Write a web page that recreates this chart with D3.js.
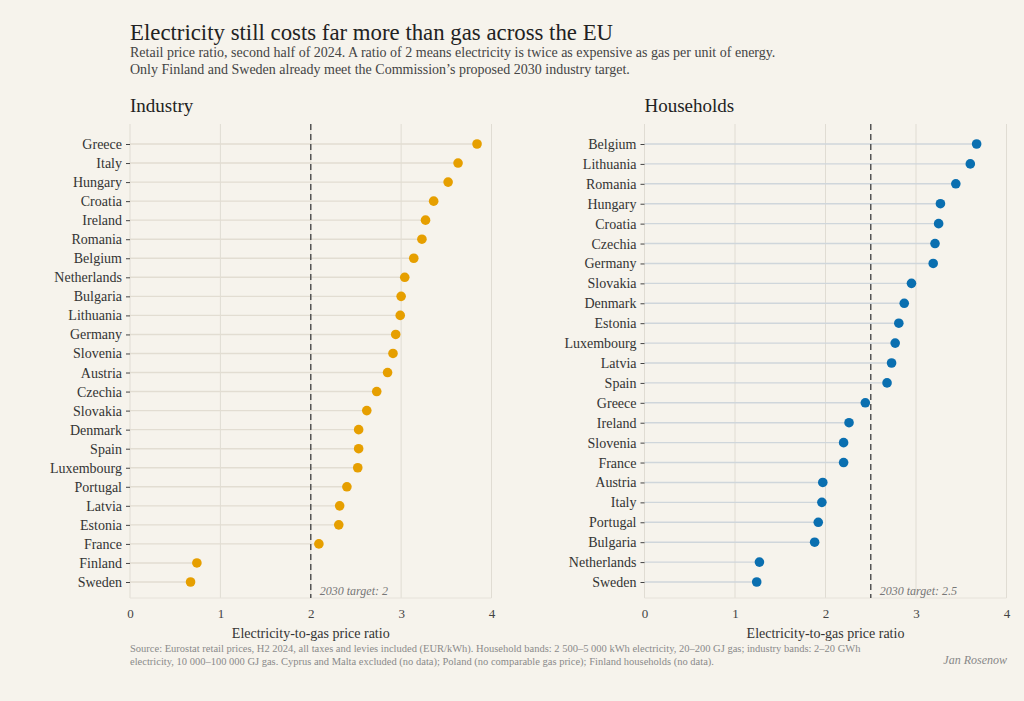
<!DOCTYPE html>
<html>
<head>
<meta charset="utf-8">
<script src="https://cdn.jsdelivr.net/npm/d3@7"></script>
<style>
  body { margin: 0; background: #f6f3ec; }
  svg text { font-family: "Liberation Serif", "DejaVu Serif", serif; }
</style>
</head>
<body>
<div id="chart"></div>
<script>
// Industry: electricity-to-gas retail price ratio, H2 2024 (sorted high to low)
const industryCountries = ["Greece", "Italy", "Hungary", "Croatia", "Ireland", "Romania", "Belgium",
  "Netherlands", "Bulgaria", "Lithuania", "Germany", "Slovenia", "Austria", "Czechia", "Slovakia",
  "Denmark", "Spain", "Luxembourg", "Portugal", "Latvia", "Estonia", "France", "Finland", "Sweden"];
const industryValues = [3.84, 3.63, 3.52, 3.36, 3.27, 3.23, 3.14, 3.04, 3.00, 2.99, 2.94, 2.91,
  2.85, 2.73, 2.62, 2.53, 2.53, 2.52, 2.40, 2.32, 2.31, 2.09, 0.74, 0.67];

// Households
const householdCountries = ["Belgium", "Lithuania", "Romania", "Hungary", "Croatia", "Czechia",
  "Germany", "Slovakia", "Denmark", "Estonia", "Luxembourg", "Latvia", "Spain", "Greece", "Ireland",
  "Slovenia", "France", "Austria", "Italy", "Portugal", "Bulgaria", "Netherlands", "Sweden"];
const householdValues = [3.67, 3.60, 3.44, 3.27, 3.25, 3.21, 3.19, 2.95, 2.87, 2.81, 2.77, 2.73,
  2.68, 2.44, 2.26, 2.20, 2.20, 1.97, 1.96, 1.92, 1.88, 1.27, 1.24];

const xTicks = [0, 1, 2, 3, 4];
const industryTarget = 2;
const householdTarget = 2.5;

let WIDTH = 1024,
    HEIGHT = 701,
    PANEL_TOP = 124,
    PANEL_BOTTOM = 598;

let svg = d3.select("#chart")
  .append("svg")
  .attr("width", WIDTH)
  .attr("height", HEIGHT);

svg.append("rect")
  .attr("width", WIDTH)
  .attr("height", HEIGHT)
  .attr("fill", "#f6f3ec");

// Title block
svg.append("text")
  .attr("x", 130).attr("y", 40)
  .attr("font-size", 22.8)
  .attr("fill", "#222")
  .text("Electricity still costs far more than gas across the EU");

const subtitle = [
  "Retail price ratio, second half of 2024. A ratio of 2 means electricity is twice as expensive as gas per unit of energy.",
  "Only Finland and Sweden already meet the Commission\u2019s proposed 2030 industry target."
];
svg.selectAll(".subtitle")
  .data(subtitle)
  .enter()
  .append("text")
  .attr("class", "subtitle")
  .attr("x", 130)
  .attr("y", (d, i) => 57 + i * 16.5)
  .attr("font-size", 14)
  .attr("fill", "#444")
  .text(d => d);

function drawPanel(opts) {
  const countries = opts.countries;
  const values = opts.values;

  const xScale = d3.scaleLinear().domain([0, 4]).range([opts.left, opts.right]);
  const yScale = d3.scalePoint().domain(countries).range([144, 582]);

  const g = svg.append("g");

  // panel title
  g.append("text")
    .attr("x", opts.left)
    .attr("y", 112)
    .attr("font-size", 19)
    .attr("fill", "#222")
    .text(opts.title);

  // vertical grid
  g.selectAll(".grid")
    .data(xTicks)
    .enter()
    .append("line")
    .attr("x1", d => xScale(d))
    .attr("x2", d => xScale(d))
    .attr("y1", PANEL_TOP)
    .attr("y2", PANEL_BOTTOM)
    .attr("stroke", "#e0dcd3")
    .attr("stroke-width", 1);

  // bottom line of the panel
  g.append("line")
    .attr("x1", xScale(0))
    .attr("x2", xScale(4))
    .attr("y1", PANEL_BOTTOM)
    .attr("y2", PANEL_BOTTOM)
    .attr("stroke", "#e6e2da");

  // lollipop stems
  g.selectAll(".stem")
    .data(countries)
    .enter()
    .append("line")
    .attr("x1", xScale(0))
    .attr("x2", (d, i) => xScale(values[i]))
    .attr("y1", d => yScale(d))
    .attr("y2", d => yScale(d))
    .attr("stroke", opts.stemColor)
    .attr("stroke-width", 1.4);

  // target line
  g.append("line")
    .attr("x1", xScale(opts.target))
    .attr("x2", xScale(opts.target))
    .attr("y1", PANEL_TOP)
    .attr("y2", PANEL_BOTTOM)
    .attr("stroke", "#555")
    .attr("stroke-width", 1.5)
    .attr("stroke-dasharray", "6,4");

  g.append("text")
    .attr("x", xScale(opts.target) + 9)
    .attr("y", 595)
    .attr("font-size", 12)
    .attr("font-style", "italic")
    .attr("fill", "#777")
    .text("2030 target: " + opts.target);

  // dots
  g.selectAll(".dot")
    .data(countries)
    .enter()
    .append("circle")
    .attr("cx", (d, i) => xScale(values[i]))
    .attr("cy", d => yScale(d))
    .attr("r", 4.8)
    .attr("fill", opts.color);

  // y axis
  const yAxis = g.append("g")
    .attr("transform", `translate(${opts.left}, 0)`)
    .call(d3.axisLeft(yScale).tickSize(4).tickPadding(4));
  yAxis.select(".domain").remove();
  yAxis.selectAll(".tick line").attr("stroke", "#444");
  yAxis.selectAll(".tick text")
    .attr("font-size", 14)
    .attr("fill", "#333")
    .style("font-family", "'Liberation Serif', serif");

  // x axis
  const xAxis = g.append("g")
    .attr("transform", `translate(0, ${PANEL_BOTTOM})`)
    .call(d3.axisBottom(xScale).tickValues(xTicks).tickFormat(d3.format("d")).tickSize(0).tickPadding(11));
  xAxis.select(".domain").remove();
  xAxis.selectAll(".tick text")
    .attr("font-size", 13)
    .attr("fill", "#444")
    .style("font-family", "'Liberation Serif', serif");

  g.append("text")
    .attr("x", (opts.left + opts.right) / 2)
    .attr("y", 638)
    .attr("text-anchor", "middle")
    .attr("font-size", 14)
    .attr("fill", "#333")
    .text("Electricity-to-gas price ratio");
}

drawPanel({
  title: "Industry",
  countries: industryCountries,
  values: industryValues,
  target: industryTarget,
  left: 130,
  right: 491.5,
  color: "#e69f00",
  stemColor: "#e2ddd2"
});

drawPanel({
  title: "Households",
  countries: householdCountries,
  values: householdValues,
  target: householdTarget,
  left: 644.5,
  right: 1006.5,
  color: "#0a6fb0",
  stemColor: "#cfd6db"
});

// Footer
const footer = [
  "Source: Eurostat retail prices, H2 2024, all taxes and levies included (EUR/kWh). Household bands: 2 500\u20135 000 kWh electricity, 20\u2013200 GJ gas; industry bands: 2\u201320 GWh",
  "electricity, 10 000\u2013100 000 GJ gas. Cyprus and Malta excluded (no data); Poland (no comparable gas price); Finland households (no data)."
];
svg.selectAll(".footer")
  .data(footer)
  .enter()
  .append("text")
  .attr("class", "footer")
  .attr("x", 130)
  .attr("y", (d, i) => 652 + i * 13)
  .attr("font-size", 10.5)
  .attr("fill", "#8a8a8a")
  .text(d => d);

svg.append("text")
  .attr("x", 1007)
  .attr("y", 664)
  .attr("text-anchor", "end")
  .attr("font-size", 12)
  .attr("font-style", "italic")
  .attr("fill", "#888")
  .text("Jan Rosenow");
</script>
</body>
</html>
